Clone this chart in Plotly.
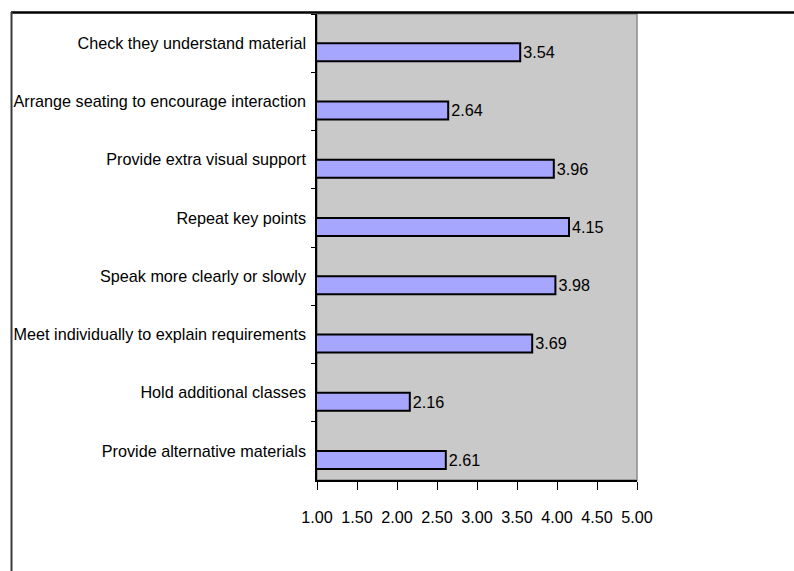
import plotly.graph_objects as go

# Survey items, listed top to bottom as shown
categories = [
    "Check they understand material",
    "Arrange seating to encourage interaction",
    "Provide extra visual support",
    "Repeat key points",
    "Speak more clearly or slowly",
    "Meet individually to explain requirements",
    "Hold additional classes",
    "Provide alternative materials",
]
mean_scores = [3.54, 2.64, 3.96, 4.15, 3.98, 3.69, 2.16, 2.61]
x_ticks = [1.0, 1.5, 2.0, 2.5, 3.0, 3.5, 4.0, 4.5, 5.0]

W, H = 794, 571
FONT = "Liberation Sans, Arial, sans-serif"
FS = 16.2


def px_x(p):
    return p / W


def px_y(p):
    return 1 - p / H


fig = go.Figure()
fig.add_trace(go.Bar(
    x=mean_scores,
    y=categories,
    orientation="h",
    width=0.31,
    offset=0.0,
    marker=dict(color="#A6A6FF", line=dict(color="black", width=2)),
    text=mean_scores,
    texttemplate="%{x:.2f}",
    textposition="outside",
    textfont=dict(family=FONT, size=FS, color="black"),
    constraintext="none",
    cliponaxis=False,
    hoverinfo="skip",
))

fig.update_layout(
    width=W,
    height=H,
    margin=dict(l=0, r=0, t=0, b=0, autoexpand=False),
    paper_bgcolor="white",
    plot_bgcolor="#C9C9C9",
    showlegend=False,
    font=dict(family=FONT, size=FS, color="black"),
    xaxis=dict(
        domain=[px_x(317), px_x(637)],
        range=[1, 5],
        tickvals=x_ticks,
        tickformat=".2f",
        tickangle=0,
        ticks="outside",
        ticklen=8,
        tickwidth=1,
        tickcolor="black",
        showline=True,
        linecolor="black",
        linewidth=1.5,
        showgrid=False,
        zeroline=False,
        automargin=False,
        ticklabelstandoff=14,
        tickfont=dict(family=FONT, size=FS),
    ),
    yaxis=dict(
        domain=[px_y(480), px_y(14)],
        type="category",
        categoryorder="array",
        categoryarray=categories,
        range=[7.5, -0.5],
        tickson="boundaries",
        ticks="outside",
        ticklen=4,
        tickwidth=1,
        tickcolor="black",
        showline=True,
        linecolor="black",
        linewidth=1.5,
        showgrid=False,
        zeroline=False,
        automargin=False,
        ticklabelstandoff=6,
        tickfont=dict(family=FONT, size=FS),
    ),
    shapes=[
        # plot-area border (top and right edges show in grey)
        dict(type="rect", xref="x domain", yref="y domain",
             x0=0, x1=1, y0=0, y1=1,
             line=dict(color="#8C8C8C", width=1.5), layer="below"),
        # chart frame
        dict(type="line", xref="paper", yref="paper",
             x0=px_x(11), x1=1, y0=px_y(12.5), y1=px_y(12.5),
             line=dict(color="black", width=2.5)),
        dict(type="line", xref="paper", yref="paper",
             x0=px_x(11.5), x1=px_x(11.5), y0=0, y1=px_y(12),
             line=dict(color="#3A3A3A", width=2)),
    ],
)

fig.write_html("out.html")
